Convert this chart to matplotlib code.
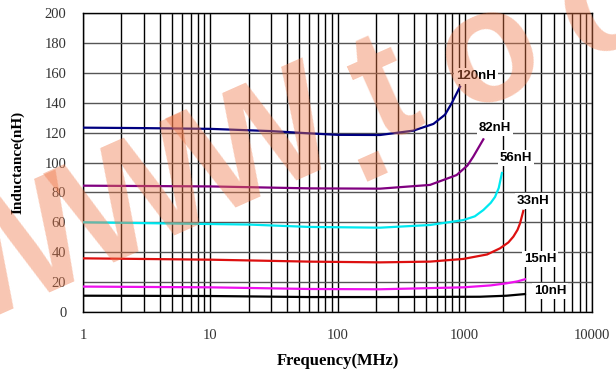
import matplotlib.pyplot as plt
from matplotlib.ticker import LogLocator, NullFormatter, FixedLocator

# frequency (MHz) / inductance (nH)
f_120 = [1, 3, 10, 30, 60, 100, 216, 394, 567, 700, 789, 918]
l_120 = [123.3, 123, 122.5, 121, 119.5, 118.5, 118.4, 121.3, 125.8, 132, 139.6, 150.7]
f_82 = [1, 10, 60, 216, 533, 863, 1050, 1166, 1400]
l_82 = [84.5, 84, 82.7, 82.5, 85, 91.6, 98, 103.9, 115.5]
f_56 = [1, 20, 60, 216, 533, 975, 1200, 1400, 1600, 1730, 1850, 1960]
l_56 = [60, 58.5, 56.9, 56.4, 58.2, 61.5, 64, 68.2, 73, 77, 83, 93]
f_33 = [1, 10, 60, 216, 533, 975, 1500, 1893, 2200, 2410, 2600, 2720, 2885]
l_33 = [35.9, 35, 33.7, 33.2, 33.7, 35.5, 38.5, 42.6, 46.5, 50.4, 55, 59.3, 67.6]
f_15 = [1, 10, 60, 216, 975, 1600, 2135, 2600, 2973]
l_15 = [17, 16.5, 15.4, 15.2, 16.5, 17.8, 19.2, 20.5, 21.9]
f_10 = [1, 10, 60, 216, 1318, 2135, 2973]
l_10 = [10.9, 10.7, 10, 10, 10.2, 10.9, 12]

names = ['120nH', '82nH', '56nH', '33nH', '15nH', '10nH']
label_f = [1225, 1729, 2528, 3437, 3899, 4677]
label_l = [157.9, 123, 103, 74.2, 35.5, 14]

y_ticks = [0, 20, 40, 60, 80, 100, 120, 140, 160, 180, 200]
x_ticks = [1, 10, 100, 1000, 10000]

# watermark letters and where they sit (pixels from top-left)
wm_chars = ['W', 'W', 'W', '.', 't', 'o', 'c']
wm_x = [15, 140, 262, 360, 387, 490, 605]
wm_y = [262, 205, 150, 135, 95, 55, 5]

fig = plt.figure(figsize=(6.16, 3.74), dpi=100)
ax = fig.add_axes([83 / 616, 1 - 312 / 374, 509 / 616, 299 / 374])
ax.patch.set_alpha(0)

curves = [(f_120, l_120, '#000080'), (f_82, l_82, '#800080'),
          (f_56, l_56, '#00e8f0'), (f_33, l_33, '#dd1010'),
          (f_15, l_15, '#ee10ee'), (f_10, l_10, '#000000')]
for fx, lx, c in curves:
    ax.plot(fx, lx, color=c, lw=1.6, zorder=3)

for n, fx, lx in zip(names, label_f, label_l):
    ax.text(fx, lx, n, ha='center', va='center', fontsize=9.5, fontweight='bold',
            family='Liberation Sans', zorder=4,
            bbox=dict(facecolor='white', edgecolor='none', pad=1.5))

ax.set_xscale('log')
ax.set_xlim(1, 10000)
ax.set_ylim(0, 200)
ax.xaxis.set_major_locator(FixedLocator(x_ticks))
ax.xaxis.set_minor_locator(LogLocator(base=10, subs=range(2, 10)))
ax.xaxis.set_minor_formatter(NullFormatter())
ax.set_xticks(x_ticks)
ax.set_xticklabels([str(v) for v in x_ticks])
ax.set_yticks(y_ticks)
ax.grid(True, which='both', axis='x', color='black', lw=1.0, zorder=1)
ax.grid(True, which='major', axis='y', color='#555555', lw=1.0, zorder=1)
ax.tick_params(which='both', length=0, labelsize=10.5, labelcolor='#333333')
ax.tick_params(axis='x', pad=12)
ax.tick_params(axis='y', pad=12)
for lab in ax.get_xticklabels() + ax.get_yticklabels():
    lab.set_family('Liberation Serif')
for s in ax.spines.values():
    s.set_color('black')
    s.set_linewidth(1.0)

ax.set_xlabel('Frequency(MHz)', family='Liberation Serif', fontweight='bold',
              fontsize=12, labelpad=8)
ax.set_ylabel('Inductance(nH)', family='Liberation Serif', fontweight='bold',
              fontsize=11, labelpad=14)

# watermark
for ch, px, py in zip(wm_chars, wm_x, wm_y):
    fig.text(px / 616, 1 - py / 374, ch, fontsize=115, fontweight='bold',
             family='Liberation Sans', color='#f07848', alpha=0.42,
             rotation=24, ha='center', va='center', zorder=10)

fig.savefig('out.png', dpi=100)
